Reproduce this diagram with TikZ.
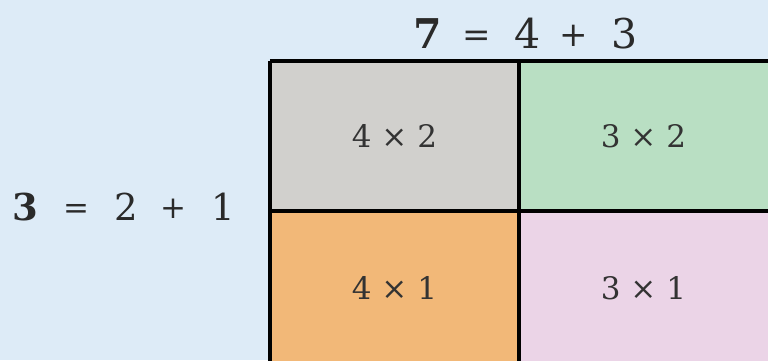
\documentclass[tikz,border=0pt]{standalone}
\usepackage{fontspec}
\setmainfont{DejaVu Serif}
\definecolor{bgblue}{HTML}{DDEBF7}
\definecolor{cellgray}{HTML}{D1D0CD}
\definecolor{cellgreen}{HTML}{B9DFC3}
\definecolor{cellorange}{HTML}{F2B878}
\definecolor{cellpink}{HTML}{EBD4E7}
\definecolor{inktext}{HTML}{2A2A2A}
\definecolor{celltext}{HTML}{333333}
\tikzset{
  cell/.style={rectangle, draw=none, minimum width=249pt, minimum height=150pt, inner sep=0pt,
    text=celltext, font=\fontsize{31}{36}\selectfont},
  bigtok/.style={inner sep=0pt, anchor=base, text=inktext, font=\fontsize{41}{46}\selectfont},
  bigop/.style={inner sep=0pt, anchor=base, text=inktext, font=\fontsize{34}{40}\selectfont},
  lefttok/.style={inner sep=0pt, anchor=base, text=inktext, font=\fontsize{37}{42}\selectfont},
  leftop/.style={inner sep=0pt, anchor=base, text=inktext, font=\fontsize{31}{36}\selectfont},
  gridline/.style={line width=4pt, black},
}
\begin{document}
\begin{tikzpicture}[x=1pt,y=-1pt]
\useasboundingbox (0,0) rectangle (768,360);
\fill[bgblue] (0,0) rectangle (768,360);
% cells
\node[cell, fill=cellgray]   (c42) at (394.5,136) {4 × 2};
\node[cell, fill=cellgreen]  (c32) at (643.5,136) {3 × 2};
\node[cell, fill=cellorange, minimum height=154pt] (c41) at (394.5,288) {4 × 1};
\node[cell, fill=cellpink,   minimum height=154pt] (c31) at (643.5,288) {3 × 1};
% grid lines
\draw[gridline] (c42.north west) -- (c32.north east);
\draw[gridline] (c42.north west) -- (c41.south west);
\draw[gridline] (c42.north east) -- (c41.south east);
\draw[gridline] (c42.south west) -- (c32.south east);
\draw[line width=1.2pt, gray!70] (c32.north east) -- (c31.south east);
% top formula
\node[bigtok] (t7) at (428,48) {\textbf{7}};
\node[bigop] (teq) at (477,46) {=};
\node[bigtok] (t4) at (528,48) {4};
\node[bigop] (tplus) at (574,46) {+};
\node[bigtok] (t3) at (625,48) {3};
% left formula
\node[lefttok] (l3) at (25,220) {\textbf{3}};
\node[leftop] (leq) at (76,218) {=};
\node[lefttok] (l2) at (126,220) {2};
\node[leftop] (lplus) at (173,218) {+};
\node[lefttok] (l1) at (223,220) {1};
\end{tikzpicture}
\end{document}
